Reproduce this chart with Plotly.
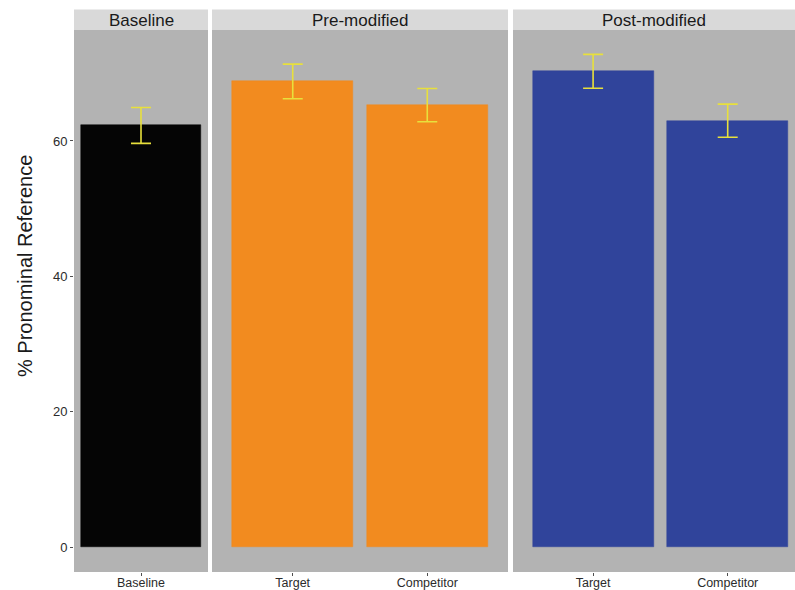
import plotly.graph_objects as go

# Mean % pronominal reference with standard errors, per condition
panels = ["Baseline", "Pre-modified", "Post-modified"]
baseline_labels = ["Baseline"]
baseline_mean = [62.3]
baseline_se = [2.65]

pre_labels = ["Target", "Competitor"]
pre_mean = [68.8, 65.3]
pre_se = [2.55, 2.45]

post_labels = ["Target", "Competitor"]
post_mean = [70.3, 63.0]
post_se = [2.5, 2.45]

y_ticks = [0, 20, 40, 60]

W, H = 795, 590
FONT = "Liberation Sans, Arial, sans-serif"
PANEL_BG = "#b3b3b3"
STRIP_BG = "#d9d9d9"
ERR_COLOR = "#e8e03c"
TEXT = "#2b2b2b"

# panel extents in pixels (left, right) and x ranges in category units
panel_px = [(74, 208), (212, 508), (513, 795)]
x_ranges = [[-0.5, 0.5], [-0.6, 1.6], [-0.595, 1.5]]
strip_top, strip_bot = 9.5, 30
plot_bottom = 572

groups = [
    (baseline_labels, baseline_mean, baseline_se, "#050505"),
    (pre_labels, pre_mean, pre_se, "#f28b1f"),
    (post_labels, post_mean, post_se, "#30449b"),
]

fig = go.Figure()
layout_axes = {}
for i, ((labels, means, ses, color), (x0, x1), xr) in enumerate(zip(groups, panel_px, x_ranges)):
    n = i + 1
    xa = "x" if n == 1 else f"x{n}"
    fig.add_trace(go.Bar(
        x=list(range(len(labels))), y=means, width=0.9,
        marker=dict(color=color, line=dict(color=color, width=0.5)),
        error_y=dict(type="data", array=ses, visible=True, color=ERR_COLOR,
                     thickness=1.6, width=10),
        xaxis=xa, yaxis="y", showlegend=False, hoverinfo="skip",
    ))
    key = "xaxis" if n == 1 else f"xaxis{n}"
    layout_axes[key] = dict(
        domain=[x0 / W, x1 / W], range=xr, anchor="y",
        tickmode="array", tickvals=list(range(len(labels))), ticktext=labels,
        ticks="outside", ticklen=3, tickcolor="#4d4d4d", tickwidth=1,
        ticklabelstandoff=-4,
        tickfont=dict(family=FONT, size=12.5, color=TEXT),
        showgrid=False, zeroline=False, showline=False, fixedrange=True,
    )

fig.update_layout(**layout_axes)

y_lo = -(plot_bottom - 547) / 6.767
y_hi = (547 - strip_bot) / 6.767
fig.update_layout(
    yaxis=dict(
        domain=[0, 1], range=[y_lo, y_hi], anchor="x",
        tickmode="array", tickvals=y_ticks,
        ticks="outside", ticklen=3, tickcolor="#4d4d4d",
        tickfont=dict(family=FONT, size=13, color=TEXT),
        showgrid=False, zeroline=False, showline=False,
    ),
    width=W, height=H,
    margin=dict(l=0, r=0, t=strip_bot, b=H - plot_bottom, autoexpand=False),
    paper_bgcolor="white",
    plot_bgcolor=PANEL_BG,
    bargap=0,
)

# facet strips
fig_h = H - strip_bot - (H - plot_bottom)


def py(px_y):
    """Convert a pixel row to paper y."""
    return (plot_bottom - px_y) / fig_h


for name, (x0, x1) in zip(panels, panel_px):
    fig.add_shape(
        type="rect", xref="paper", yref="paper",
        x0=x0 / W, x1=x1 / W, y0=py(strip_bot), y1=py(strip_top),
        fillcolor=STRIP_BG, line=dict(width=0), layer="below",
    )
    fig.add_annotation(
        x=(x0 + x1) / 2 / W, y=py((strip_top + strip_bot) / 2 + 0.5),
        xref="paper", yref="paper", text=name, showarrow=False,
        font=dict(family=FONT, size=17, color="#1a1a1a"),
        xanchor="center", yanchor="middle",
    )

# y-axis title
fig.add_annotation(
    x=25 / W, y=py(266),
    xref="paper", yref="paper", text="% Pronominal Reference", textangle=-90,
    showarrow=False, xanchor="center", yanchor="middle",
    font=dict(family=FONT, size=20, color="#1a1a1a"),
)

fig.write_html("out.html")
